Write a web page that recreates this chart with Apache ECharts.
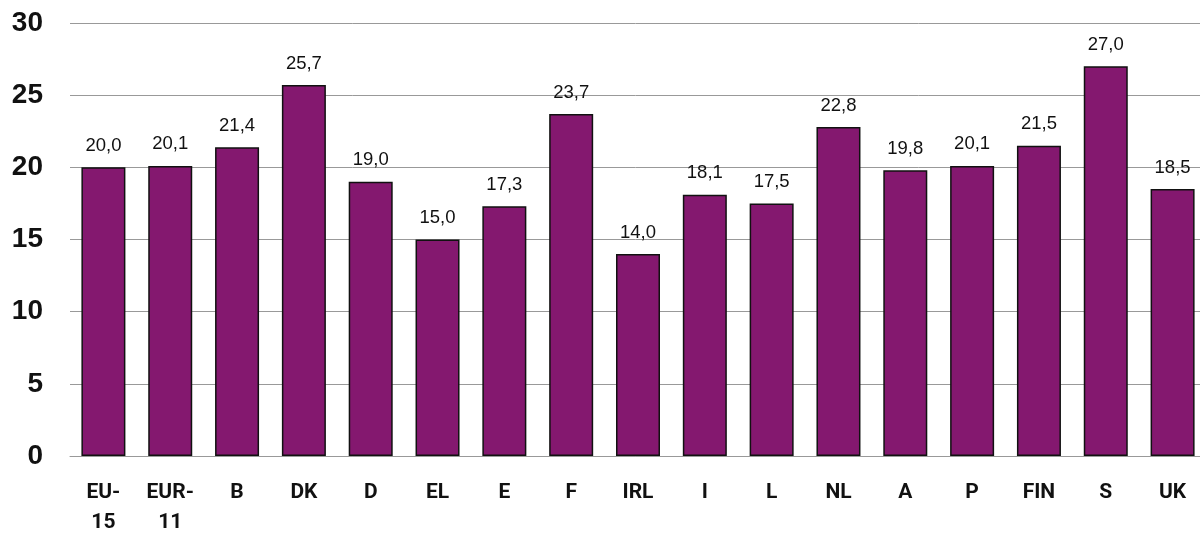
<!DOCTYPE html>
<html><head><meta charset="utf-8">
<script src="https://cdn.jsdelivr.net/npm/echarts@6/dist/echarts.min.js"></script>
<style>html,body{margin:0;padding:0;background:#fff}#c{width:1200px;height:534px}</style>
</head><body><div id="c"></div>
<script>
const categories = ['EU-\n15','EUR-\n11','B','DK','D','EL','E','F','IRL','I','L','NL','A','P','FIN','S','UK'];
const values = [20.0,20.1,21.4,25.7,19.0,15.0,17.3,23.7,14.0,18.1,17.5,22.8,19.8,20.1,21.5,27.0,18.5];
const yTicks = [0,5,10,15,20,25,30];

const chart = echarts.init(document.getElementById('c'), null, {renderer:'canvas'});
chart.setOption({
  animation:false,
  backgroundColor:'#fff',
  grid:{left:70, width:1136, top:23, bottom:78, containLabel:false, outerBoundsMode:'none'},
  xAxis:{type:'category', data:categories,
    axisLine:{show:true, lineStyle:{color:'#999', width:1}},
    axisTick:{show:false},
    axisLabel:{color:'#111', fontFamily:'Roboto, Liberation Sans, Arial, sans-serif', fontWeight:'bold', fontSize:21, lineHeight:30, margin:22, interval:0}
  },
  yAxis:{type:'value', min:0, max:30, interval:5,
    axisLine:{show:false}, axisTick:{show:false},
    splitLine:{lineStyle:{color:'#999', width:1}},
    axisLabel:{color:'#111', fontFamily:'Liberation Sans, Arial, sans-serif', fontWeight:'bold', fontSize:28, margin:27,
      formatter:v=>yTicks.includes(v)?String(v):''}
  },
  series:[{type:'bar', data:values, barWidth:44,
    itemStyle:{color:'#84186f', borderColor:'#111', borderWidth:1.5},
    label:{show:true, position:'top', distance:12, color:'#111', fontFamily:'Liberation Sans, Arial, sans-serif', fontSize:18.5,
      formatter:p=>p.value.toFixed(1).replace('.',',')}
  }]
});
</script></body></html>
